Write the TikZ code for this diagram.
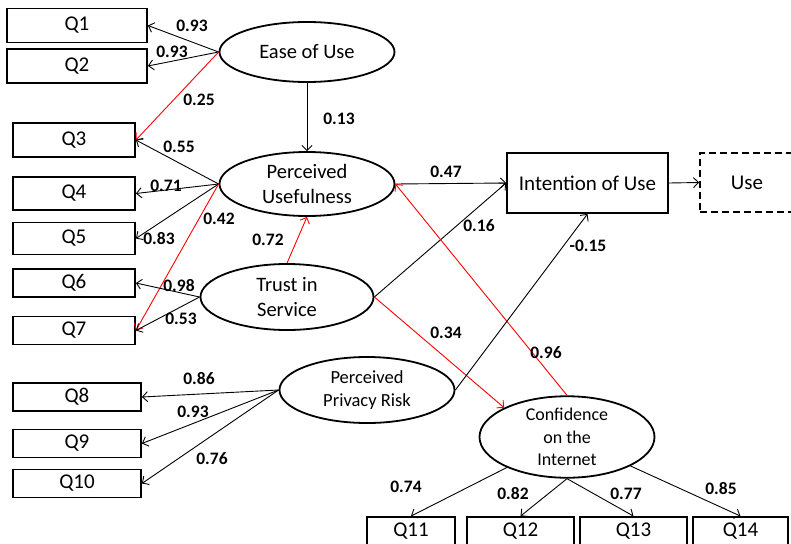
\documentclass[tikz,border=0pt]{standalone}
\usepackage{fontspec}
\setmainfont{Carlito}
\usetikzlibrary{shapes.geometric}
\usetikzlibrary{arrows.meta}

\begin{document}
\begin{tikzpicture}[x=1pt,y=-1pt,
  item/.style={draw, line width=1.8pt, inner sep=0, font=\fontsize{21}{23}\selectfont},
  latent/.style={draw, ellipse, line width=1.8pt, inner sep=0, align=center, font=\fontsize{20.5}{25}\selectfont},
  wt/.style={font=\fontsize{17.5}{19}\selectfont\bfseries, inner sep=0},
  load/.style={-{Straight Barb[length=5pt,width=10pt]}, line width=.9pt},
  sig/.style={load, red}]
\clip (0,0) rectangle (791,543);
\fill[white] (0,0) rectangle (791,543);
% indicator boxes
\foreach \n/\x/\y/\w/\h in {1/77/25.5/140/34, 2/77/66/140/34, 3/74/140/122/34, 4/74/193.5/122/33, 5/74/238.5/122/32,
  6/74/283/122/28, 7/74/330.5/122/28, 8/77/397/128/28, 9/77/443.5/128/28, 10/77/483.5/128/28}
  \node[item, minimum width=\w, minimum height=\h] (q\n) at (\x,\y) {Q\n};
\foreach \n/\x/\w in {11/411/88, 12/520.5/107, 13/633.5/107, 14/740.5/95}
  \node[item, minimum width=\w, minimum height=34, text height=13.5pt, text depth=9pt] (q\n) at (\x,534) {Q\n};
% constructs
\node[latent, minimum width=175, minimum height=60] (ease) at (307,52) {Ease of Use};
\node[latent, minimum width=175, minimum height=64] (pu) at (307,184) {Perceived\\Usefulness};
\node[latent, minimum width=173, minimum height=66] (trust) at (287,297) {Trust in\\Service};
\node[latent, minimum width=175, minimum height=66, font=\fontsize{18.5}{23}\selectfont] (risk) at (367,390) {Perceived\\Privacy Risk};
\node[latent, minimum width=175, minimum height=68, font=\fontsize{18}{22.5}\selectfont] (conf) at (567,437) {Confidence\\on the\\Internet};
\node[item, minimum width=161, minimum height=60] (intent) at (587.5,183) {Intention of Use};
\node[item, dash pattern=on 7pt off 4pt, minimum width=94, minimum height=59] (use) at (747,182.5) {Use};
% measurement paths
\draw[load] (ease.west) -- (q1.east);
\draw[load] (ease.west) -- (q2.east);
\draw[sig] (ease.west) -- (q3.east);
\draw[load] (pu.west) -- (q3.east);
\draw[load] (pu.west) -- (q4.east);
\draw[load] (pu.west) -- (q5.east);
\draw[sig] (pu.west) -- (q7.east);
\draw[load] (trust.west) -- (q6.east);
\draw[load] (trust.west) -- (q7.east);
\draw[load] (risk.west) -- (q8.east);
\draw[load] (risk.west) -- (q9.east);
\draw[load] (risk.west) -- (q10.east);
\draw[load] (conf) -- (q11.north);
\draw[load] (conf.south) -- (q12.north);
\draw[load] (conf.south) -- (q13.north);
\draw[load] (conf) -- (q14.north);
% structural paths
\draw[load] (ease.south) -- (pu.north);
\draw[sig] (trust.north) -- (pu.south);
\draw[load] (pu.east) -- (intent.west);
\draw[load] (trust.east) -- (intent.west);
\draw[sig] (trust.east) -- (conf.155);
\draw[sig] (conf.north) -- (pu.east);
\draw[load] (risk.east) -- (intent.south);
\draw[load] (intent.east) -- (use.west);
% weights
\foreach \n/\x/\y/\t in {a/192/26/0.93, b/172/52/0.93, c/199/100/0.25, d/339/119/0.13, e/179/147/0.55,
  f/166/186/0.71, g/219/219/0.42, h/159/239/0.83, i/268/240/0.72, j/179/286/0.98, k/181/319/0.53,
  l/446/333/0.34, m/199/379/0.86, n/193/412/0.93, o/212/459/0.76, p/406/487/0.74, r/446/172/0.47,
  s/479/226/0.16, t/588/246/-0.15, u/546/353/0.96, v/513/494/0.82, w/626/494/0.77, z/721/489/0.85}
  \node[wt] (w\n) at (\x,\y) {\t};
\end{tikzpicture}
\end{document}
